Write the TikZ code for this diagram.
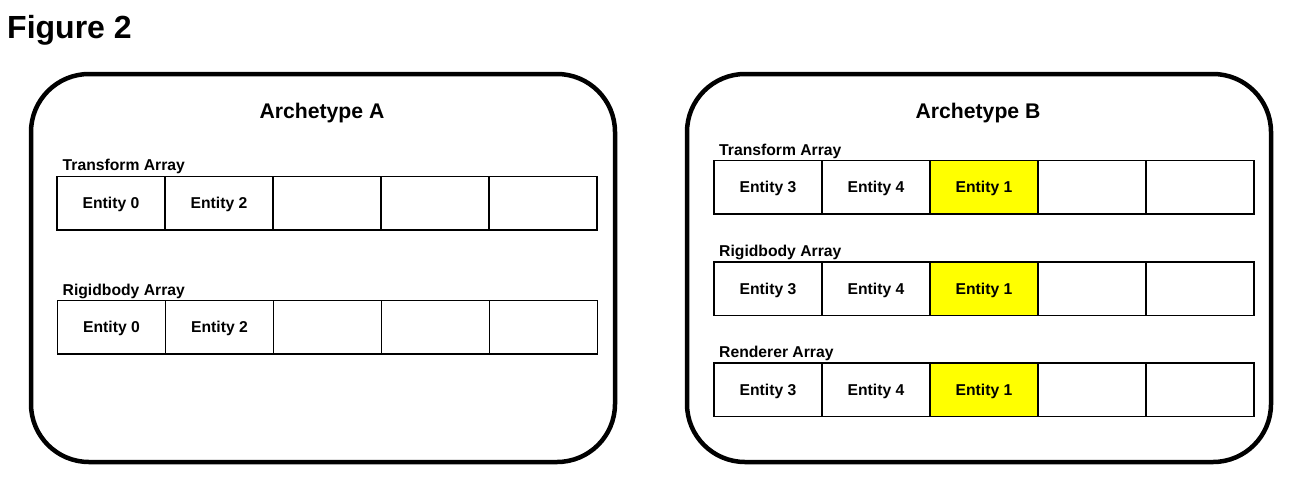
\documentclass[tikz,border=0pt]{standalone}
\usepackage{fontspec}
\setmainfont{Liberation Sans}
\definecolor{hiyellow}{RGB}{255,255,0}
\newcommand\mycellrow[4]{%
  \foreach \txt/\fc [count=\i from 0] in {#4} {%
    \node[cell, fill=\fc] (#1\i) at ({#2+108*\i},#3) {\txt};}}
\begin{document}
\begin{tikzpicture}[x=1pt,y=-1pt,
  cell/.style={draw, line width=1.6pt, minimum width=108pt, minimum height=53.5pt,
    inner sep=0pt, outer sep=0pt, anchor=north west, text height=11.2pt, text depth=0pt,
    font=\fontsize{15.7}{18}\selectfont\bfseries},
  arrlabel/.style={anchor=base west, inner sep=0pt, font=\fontsize{15.7}{18}\selectfont\bfseries},
  title/.style={anchor=base, inner sep=0pt, font=\fontsize{21.2}{24}\selectfont\bfseries},
  archbox/.style={draw, line width=4.5pt, rounded corners=58pt, anchor=north west,
    inner sep=0pt, outer sep=0pt, minimum width=584pt, minimum height=388pt}]
\useasboundingbox (0,0) rectangle (1300,488);
\fill[white] (0,0) rectangle (1300,488);

\node[anchor=base west, inner sep=0pt, font=\fontsize{32}{36}\selectfont\bfseries] (fig) at (7,38) {Figure 2};

% Archetype A
\node[archbox] (boxA) at (31,74) {};
\node[title] (titleA) at (322,118) {Archetype A};
\node[arrlabel] (lAt) at (62.5,170) {Transform Array};
\mycellrow{At}{57}{176.5}{Entity 0/white,Entity 2/white,/white,/white,/white}
\node[arrlabel] (lAr) at (62.5,295) {Rigidbody Array};
\mycellrow{Ar}{57.5}{300.5}{Entity 0/white,Entity 2/white,/white,/white,/white}

% Archetype B
\node[archbox] (boxB) at (687,74) {};
\node[title] (titleB) at (978,118.5) {Archetype B};
\node[arrlabel] (lBt) at (719,155) {Transform Array};
\mycellrow{Bt}{714}{160.5}{Entity 3/white,Entity 4/white,Entity 1/hiyellow,/white,/white}
\node[arrlabel] (lBr) at (719,256.5) {Rigidbody Array};
\mycellrow{Br}{714}{262}{Entity 3/white,Entity 4/white,Entity 1/hiyellow,/white,/white}
\node[arrlabel] (lBn) at (719,357) {Renderer Array};
\mycellrow{Bn}{714}{363}{Entity 3/white,Entity 4/white,Entity 1/hiyellow,/white,/white}
\end{tikzpicture}
\end{document}
